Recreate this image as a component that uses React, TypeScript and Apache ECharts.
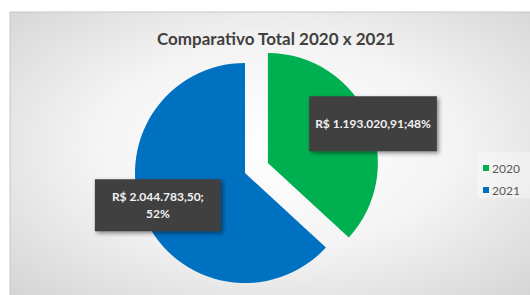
import React, { useEffect, useRef } from "react";
import * as echarts from "echarts";

const categories = ["2020", "2021"];
const values = [1193020.91, 2044783.5];
const percentLabels = ["48%", "52%"];
const colors = ["#00B050", "#0070C0"];

function formatBRL(v: number): string {
  const fixed = v.toFixed(2);
  const [intPart, dec] = fixed.split(".");
  const withDots = intPart.replace(/\B(?=(\d{3})+(?!\d))/g, ".");
  return `R$ ${withDots},${dec}`;
}

export default function App() {
  const ref = useRef<HTMLDivElement>(null);
  useEffect(() => {
    if (!ref.current) return;
    const chart = echarts.init(ref.current, undefined, { renderer: "svg" });
    const font = "Lato, 'Open Sans', sans-serif";
    const labelOffsets = [
      { dx: 52, dy: -16 },
      { dx: -34, dy: 9 },
    ];
    const labelPaddings = [
      [19, 6],
      [9, 17],
    ];
    const textStyle = {
      color: "#f2f2f2",
      fontFamily: font,
      fontWeight: "bold" as const,
      fontSize: 12,
      lineHeight: 17,
    };
    const pieBase = {
      type: "pie" as const,
      center: [245, 173],
      radius: 110,
      startAngle: 90,
      clockwise: true,
      selectedMode: "single" as const,
      selectedOffset: 25,
      labelLine: { show: false },
      emphasis: { disabled: true },
      select: { itemStyle: { borderWidth: 0 } },
    };
    chart.setOption({
      animation: false,
      graphic: [
        {
          type: "rect",
          shape: { x: 10, y: 12, width: 530, height: 300 },
          style: {
            fill: {
              type: "radial",
              x: 0.5,
              y: 0.45,
              r: 0.75,
              colorStops: [
                { offset: 0, color: "#ffffff" },
                { offset: 0.45, color: "#f4f4f4" },
                { offset: 1, color: "#d0d0d0" },
              ],
            },
            stroke: "#c8c8c8",
            lineWidth: 1,
          },
          z: -10,
          silent: true,
        },
        {
          type: "rect",
          shape: { x: 477, y: 152, width: 55, height: 46 },
          style: { fill: "rgba(255,255,255,0.35)" },
          z: -5,
          silent: true,
        },
      ],
      title: {
        text: "Comparativo Total 2020 x 2021",
        left: 271,
        textAlign: "center",
        top: 25,
        textStyle: {
          fontFamily: font,
          fontWeight: "bold",
          fontSize: 17,
          color: "#404040",
        },
      },
      legend: {
        orient: "vertical",
        left: 478,
        top: 157,
        icon: "rect",
        itemWidth: 6,
        itemHeight: 6,
        itemGap: 10,
        textStyle: { fontFamily: font, fontSize: 12, color: "#595959", padding: [0, 0, 0, -2] },
        data: categories,
      },
      series: [
        {
          ...pieBase,
          z: 2,
          label: {
            show: true,
            position: "inside",
            align: "center",
            ...textStyle,
            backgroundColor: "#404040",
            shadowColor: "rgba(0,0,0,0.45)",
            shadowBlur: 4,
            shadowOffsetX: 2,
            shadowOffsetY: 2,
            formatter: (p: any) =>
              p.dataIndex === 0
                ? `${formatBRL(values[0])};${percentLabels[0]}`
                : `${formatBRL(values[1])};\n\u00a0`,
          },
          labelLayout: (params: any) => labelOffsets[params.dataIndex],
          data: categories.map((name, i) => ({
            name,
            value: values[i],
            selected: i === 0,
            itemStyle: { color: colors[i], borderWidth: 0 },
            label: { padding: labelPaddings[i] },
          })),
        },
        {
          ...pieBase,
          z: 5,
          silent: true,
          label: {
            show: true,
            position: "inside",
            align: "center",
            verticalAlign: "middle",
            ...textStyle,
            formatter: (p: any) => (p.dataIndex === 1 ? percentLabels[1] : ""),
          },
          labelLayout: (params: any) => ({
            dx: labelOffsets[params.dataIndex].dx,
            dy: labelOffsets[params.dataIndex].dy + 8.5,
          }),
          data: categories.map((name, i) => ({
            name,
            value: values[i],
            selected: i === 0,
            itemStyle: { color: "rgba(0,0,0,0)", borderWidth: 0 },
            label: { show: i === 1 },
          })),
        },
      ],
    });
    return () => chart.dispose();
  }, []);
  return (
    <div
      ref={ref}
      style={{ position: "fixed", left: 0, top: 0, width: 530, height: 295, background: "#ffffff" }}
    />
  );
}
